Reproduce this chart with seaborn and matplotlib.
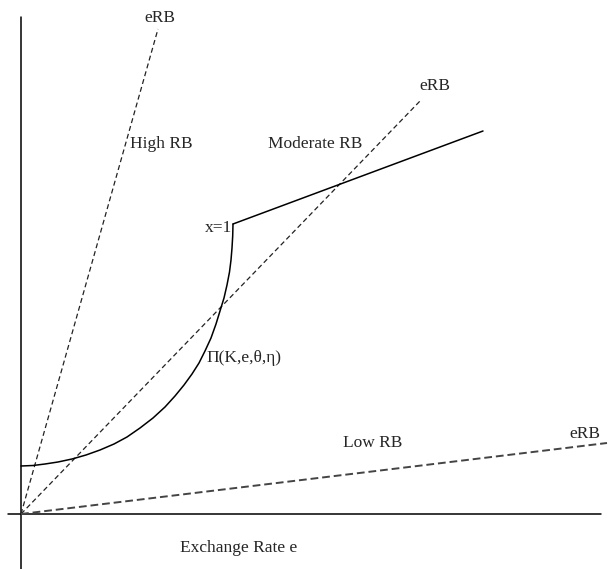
import numpy as np
import pandas as pd
import matplotlib
matplotlib.use("Agg")
import matplotlib.pyplot as plt
import seaborn as sns

# ===============================================
# DATA (diagram units, origin at the axes corner)
# ===============================================
# Pi(K,e,theta,eta) curve
curve_e = [0, 12, 24, 37, 51, 65, 79, 93, 106, 119, 132, 144, 154, 163,
           171, 178, 184, 190, 195, 199, 203, 206, 208.5, 210, 211, 211.7, 212]
curve_y = [48, 48.5, 50, 52, 55, 59, 64, 70, 77, 86, 96, 107, 118, 129,
           140, 151, 163, 176, 190, 203, 216, 229, 242, 254, 266, 278, 290]

# straight segment after x=1
seg_e = [212, 462]
seg_y = [290, 383]

# eRB rays from the origin (end points)
ray_names = ["High RB", "Moderate RB", "Low RB"]
ray_end_e = [137, 400, 586]
ray_end_y = [485, 414, 71]

# ===============================================
# FIGURE
# ===============================================
sns.set_style("white")
plt.rcParams['font.family'] = ['Liberation Serif', 'DejaVu Serif']

fig = plt.figure(figsize=(6.1, 5.69), dpi=100)
ax = fig.add_axes([0, 0, 1, 1])
ax.set_xlim(-21, 589)
ax.set_ylim(-55, 514)
ax.axis('off')

# axes lines
ax.plot([0, 0], [-55, 497], color='black', lw=1.1)
ax.plot([-13, 580], [0, 0], color='black', lw=1.1)

# rays
for name, ee, yy in zip(ray_names, ray_end_e, ray_end_y):
    df = pd.DataFrame({'e': [0, ee], 'y': [0, yy]})
    if name == "Low RB":
        sns.lineplot(data=df, x='e', y='y', ax=ax, color='#444444', lw=1.4,
                     linestyle=(0, (4, 2)), sort=False)
    else:
        sns.lineplot(data=df, x='e', y='y', ax=ax, color='#222222', lw=0.9,
                     linestyle=(0, (4, 2.5)), sort=False)

# profit curve and segment
curve_df = pd.DataFrame({'e': curve_e, 'y': curve_y})
sns.lineplot(data=curve_df, x='e', y='y', ax=ax, color='black', lw=1.1, sort=False)
seg_df = pd.DataFrame({'e': seg_e, 'y': seg_y})
sns.lineplot(data=seg_df, x='e', y='y', ax=ax, color='black', lw=1.1, sort=False)

fs = 12.5
ax.text(139, 496, "eRB", fontsize=fs, ha='center', va='center')
ax.text(414, 428, "eRB", fontsize=fs, ha='center', va='center')
ax.text(564, 80, "eRB", fontsize=fs, ha='center', va='center')
ax.text(109, 370, "High RB", fontsize=fs, ha='left', va='center')
ax.text(247, 370, "Moderate RB", fontsize=fs, ha='left', va='center')
ax.text(322, 71, "Low RB", fontsize=fs, ha='left', va='center')
ax.text(211, 286, "x=1", fontsize=fs, ha='right', va='center')
ax.text(185, 156, "\u03a0(K,e,\u03b8,\u03b7)", fontsize=fs, ha='left', va='center')
ax.text(159, -34, "Exchange Rate e", fontsize=fs, ha='left', va='center')

ax.set_xlabel('')
ax.set_ylabel('')
fig.savefig("out.png", dpi=100)
plt.close(fig)
